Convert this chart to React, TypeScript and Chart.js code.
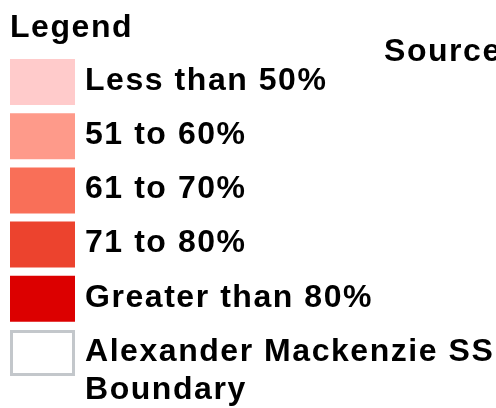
import React, { useEffect, useRef } from "react";
import { Chart, registerables } from "chart.js";

Chart.register(...registerables);

const TITLE = "Legend";
const SOURCE_TEXT = "Source";
const CATEGORIES: (string | string[])[] = [
  "Less than 50%",
  "51 to 60%",
  "61 to 70%",
  "71 to 80%",
  "Greater than 80%",
  ["", "Alexander Mackenzie SS", "Boundary"],
];
const SPANS: [number, number][] = [
  [0, 1],
  [0, 1],
  [0, 1],
  [0, 1],
  [0, 1],
  [0, 1],
];
const FILL_COLORS = ["#ffcbcb", "#fe9a8a", "#f96f58", "#ec432e", "#dc0000", "#ffffff"];
const BORDER_COLORS = ["#ffcbcb", "#fe9a8a", "#f96f58", "#ec432e", "#dc0000", "#c3c7cb"];
const BORDER_WIDTHS = [0, 0, 0, 0, 0, 3];

const FONT_FAMILY = "'Liberation Sans', Arial, sans-serif";
const LETTER_SPACING = "1.55px";

export default function App() {
  const ref = useRef<HTMLCanvasElement | null>(null);

  useEffect(() => {
    if (!ref.current) return;
    const spacingPlugin = {
      id: "spacing",
      beforeLayout(chart: any) {
        (chart.ctx as any).letterSpacing = LETTER_SPACING;
      },
      beforeDraw(chart: any) {
        (chart.ctx as any).letterSpacing = LETTER_SPACING;
      },
      afterDraw(chart: any) {
        const ctx = chart.ctx;
        ctx.save();
        (ctx as any).letterSpacing = LETTER_SPACING;
        ctx.font = `bold 32px ${FONT_FAMILY}`;
        ctx.fillStyle = "#000";
        ctx.textBaseline = "alphabetic";
        ctx.textAlign = "left";
        ctx.fillText(SOURCE_TEXT, 384, 61);
        ctx.restore();
      },
    };
    const chart = new Chart(ref.current, {
      type: "bar",
      data: {
        labels: CATEGORIES,
        datasets: [
          {
            data: SPANS,
            backgroundColor: FILL_COLORS,
            borderColor: BORDER_COLORS,
            borderWidth: BORDER_WIDTHS,
            borderSkipped: false,
            barPercentage: 0.85,
            categoryPercentage: 1,
          } as any,
        ],
      },
      options: {
        indexAxis: "y",
        responsive: false,
        animation: false,
        layout: { padding: { left: 10, right: 0, top: 0, bottom: 28 } },
        scales: {
          x: { display: false, min: 0, max: 1 },
          y: {
            position: "right",
            grid: { display: false, drawTicks: false },
            border: { display: false },
            ticks: {
              padding: 10,
              labelOffset: -1,
              color: "#000",
              autoSkip: false,
              crossAlign: "near",
              font: { family: FONT_FAMILY, weight: "bold", size: 32, lineHeight: 1.19 },
            },
            afterFit: (scale: any) => {
              scale.width = 421;
              scale.paddingTop = 0;
              scale.paddingBottom = 0;
            },
          } as any,
        },
        plugins: {
          legend: { display: false },
          tooltip: { enabled: false },
          title: {
            display: true,
            text: TITLE,
            align: "start",
            color: "#000",
            font: { family: FONT_FAMILY, weight: "bold", size: 32 },
            padding: { top: 9, bottom: 7.6 },
          },
        },
      },
      plugins: [spacingPlugin],
    });
    return () => chart.destroy();
  }, []);

  return (
    <div style={{ position: "fixed", left: 0, top: 0, width: 496, height: 408, background: "#fff" }}>
      <canvas ref={ref} width={496} height={408} style={{ display: "block" }} />
    </div>
  );
}
